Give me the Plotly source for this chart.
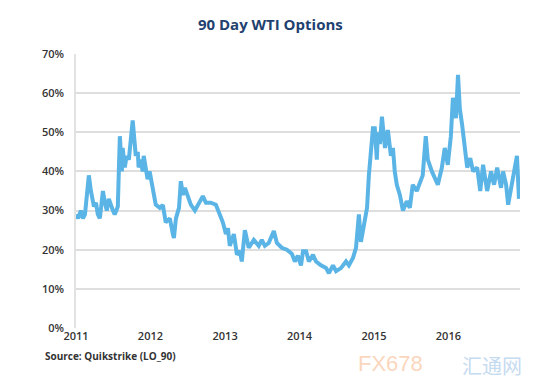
import plotly.graph_objects as go

# ---- data (90-day WTI implied volatility, %) ----
dates = [
    # 2011
    "2011-01-01", "2011-01-11", "2011-01-25", "2011-02-04", "2011-02-14", "2011-02-24",
    "2011-03-05", "2011-03-15", "2011-03-30", "2011-04-09", "2011-04-18", "2011-04-28",
    "2011-05-13", "2011-05-23", "2011-06-01", "2011-06-11", "2011-06-21", "2011-07-01",
    "2011-07-10", "2011-07-25", "2011-07-30", "2011-08-04", "2011-08-14", "2011-08-18",
    "2011-08-28", "2011-09-07", "2011-09-17", "2011-09-26", "2011-10-06", "2011-10-16",
    "2011-10-21", "2011-10-31", "2011-11-04", "2011-11-14", "2011-11-24", "2011-11-29",
    "2011-12-09", "2011-12-18", "2011-12-28",
    # 2012
    "2012-01-08", "2012-01-18", "2012-01-27", "2012-02-16", "2012-03-02", "2012-03-16",
    "2012-04-05", "2012-04-20", "2012-04-25", "2012-05-05", "2012-05-20", "2012-05-29",
    "2012-06-08", "2012-06-18", "2012-07-02", "2012-07-17", "2012-08-06", "2012-08-21",
    "2012-09-14", "2012-09-29", "2012-10-23", "2012-11-17", "2012-12-06", "2012-12-21",
    # 2013
    "2013-01-05", "2013-01-15", "2013-01-24", "2013-02-13", "2013-02-28", "2013-03-14",
    "2013-03-24", "2013-04-08", "2013-04-27", "2013-05-22", "2013-06-15", "2013-06-30",
    "2013-07-15", "2013-08-03", "2013-08-28", "2013-09-12", "2013-10-06", "2013-10-31",
    "2013-11-24", "2013-12-09", "2013-12-24",
    # 2014
    "2014-01-08", "2014-01-18", "2014-02-02", "2014-02-16", "2014-03-08", "2014-03-23",
    "2014-04-16", "2014-05-11", "2014-05-25", "2014-06-14", "2014-06-29", "2014-07-23",
    "2014-08-17", "2014-08-31", "2014-09-20", "2014-10-05", "2014-10-19", "2014-10-29",
    "2014-11-13", "2014-11-28", "2014-12-07", "2014-12-17", "2014-12-27",
    # 2015
    "2015-01-05", "2015-01-15", "2015-01-20", "2015-01-30", "2015-02-09", "2015-02-24",
    "2015-03-10", "2015-03-25", "2015-04-04", "2015-04-13", "2015-04-23", "2015-05-08",
    "2015-05-23", "2015-06-11", "2015-06-26", "2015-07-10", "2015-07-30", "2015-08-14",
    "2015-08-28", "2015-09-12", "2015-09-22", "2015-10-12", "2015-10-26", "2015-11-10",
    "2015-11-30", "2015-12-14", "2015-12-29",
    # 2016
    "2016-01-03", "2016-01-13", "2016-01-23", "2016-02-07", "2016-02-17", "2016-02-26",
    "2016-03-08", "2016-03-23", "2016-04-02", "2016-04-17", "2016-05-01", "2016-05-21",
    "2016-06-05", "2016-06-19", "2016-07-09", "2016-07-28", "2016-08-12", "2016-08-27",
    "2016-09-15", "2016-09-25", "2016-10-10", "2016-10-20", "2016-11-03", "2016-11-13",
    "2016-11-28", "2016-12-02", "2016-12-12",
]

vol = [
    # 2011
    29, 28, 30, 28, 29, 34,
    39, 35, 31, 32, 29, 28,
    35, 32, 30, 33, 31, 30,
    29, 31, 40, 49, 40, 46,
    41, 44, 43, 48, 53, 47,
    44, 45, 41, 43, 40, 44,
    41, 38, 40,
    # 2012
    37, 34, 31.5, 30.7, 31.4, 27,
    28, 24, 23, 28, 30.7, 37.5,
    34, 35.8, 34, 31.5, 30, 31.5,
    33.7, 32, 32, 31.5, 29, 27,
    # 2013
    24, 25.5, 21, 24, 18.7, 19.7,
    17, 25, 20.5, 22.5, 21, 22.5,
    21, 21.7, 24.8, 21.7, 20.5, 20,
    19, 17, 18.5,
    # 2014
    16, 19.6, 19.6, 17, 18.7, 17,
    16, 15.3, 14, 16, 14.5, 15.3,
    17, 16, 17.9, 20.5, 29, 22,
    27, 30.7, 39, 46, 51,
    # 2015
    51, 43, 50, 47, 54, 46,
    50.6, 44, 46, 40, 36.6, 34,
    30, 32.4, 30.7, 36.6, 35, 37.5,
    39, 49, 43, 40, 38, 36.6,
    41, 46, 41.7,
    # 2016
    44, 49, 58.8, 53.6, 64.7, 56,
    52, 44, 41, 43.4, 40, 41,
    35, 41.7, 35, 40, 36.6, 41,
    35.8, 40, 36.6, 31.5, 35.8, 39,
    44, 44, 33,
]

year_ticks = ["2011-01-01", "2012-01-01", "2013-01-01", "2014-01-01", "2015-01-01", "2016-01-01"]
year_labels = ["2011", "2012", "2013", "2014", "2015", "2016"]
y_ticks = [0, 10, 20, 30, 40, 50, 60, 70]
y_labels = [f"{v}%" for v in y_ticks]

TITLE = "90 Day WTI Options"
SOURCE = "Source: Quikstrike (LO_90)"

fig = go.Figure()
fig.add_trace(go.Scatter(
    x=dates, y=vol, mode="lines",
    line=dict(color="#5AB4E5", width=4),
    hoverinfo="x+y", showlegend=False,
))

tick_font = dict(family="Open Sans, Arial, sans-serif", size=11, color="#333333", weight=600)

fig.update_layout(
    width=550, height=381,
    margin=dict(l=68, r=38, t=46, b=61),
    paper_bgcolor="white", plot_bgcolor="white",
    title=dict(text=f"<b>{TITLE}</b>", x=0.477, xanchor="center", y=0.955, yanchor="middle",
               font=dict(family="Open Sans, Arial, sans-serif", size=15, color="#1F4170")),
    xaxis=dict(
        type="date", range=["2011-01-01", "2016-12-17"],
        tickvals=year_ticks, ticktext=year_labels,
        showgrid=False, zeroline=False,
        showline=False, ticks="",
        tickfont=tick_font,
    ),
    yaxis=dict(
        range=[0, 70], tickvals=y_ticks, ticktext=y_labels,
        showgrid=True, gridcolor="#DEDEDE", gridwidth=1.5,
        zeroline=False, showline=True, linecolor="#E2E2E2", linewidth=1.5,
        ticks="", tickfont=tick_font, ticklabelstandoff=8,
    ),
    annotations=[
        dict(text=f"<b>{SOURCE}</b>", xref="paper", yref="paper", x=-0.074, y=-0.07,
             xanchor="left", yanchor="top", showarrow=False,
             font=dict(family="Open Sans, Arial, sans-serif", size=10, color="#333333")),
        dict(text="FX678", xref="paper", yref="paper", x=0.63, y=-0.075,
             xanchor="left", yanchor="top", showarrow=False, opacity=0.4,
             font=dict(family="Arial, sans-serif", size=22, color="#F39A5C")),
        dict(text="汇通网", xref="paper", yref="paper", x=1.01, y=-0.075,
             xanchor="right", yanchor="top", showarrow=False, opacity=0.4,
             font=dict(family="Noto Sans CJK SC, sans-serif", size=20, color="#6FA6DC")),
    ],
)

fig.write_html("out.html")
